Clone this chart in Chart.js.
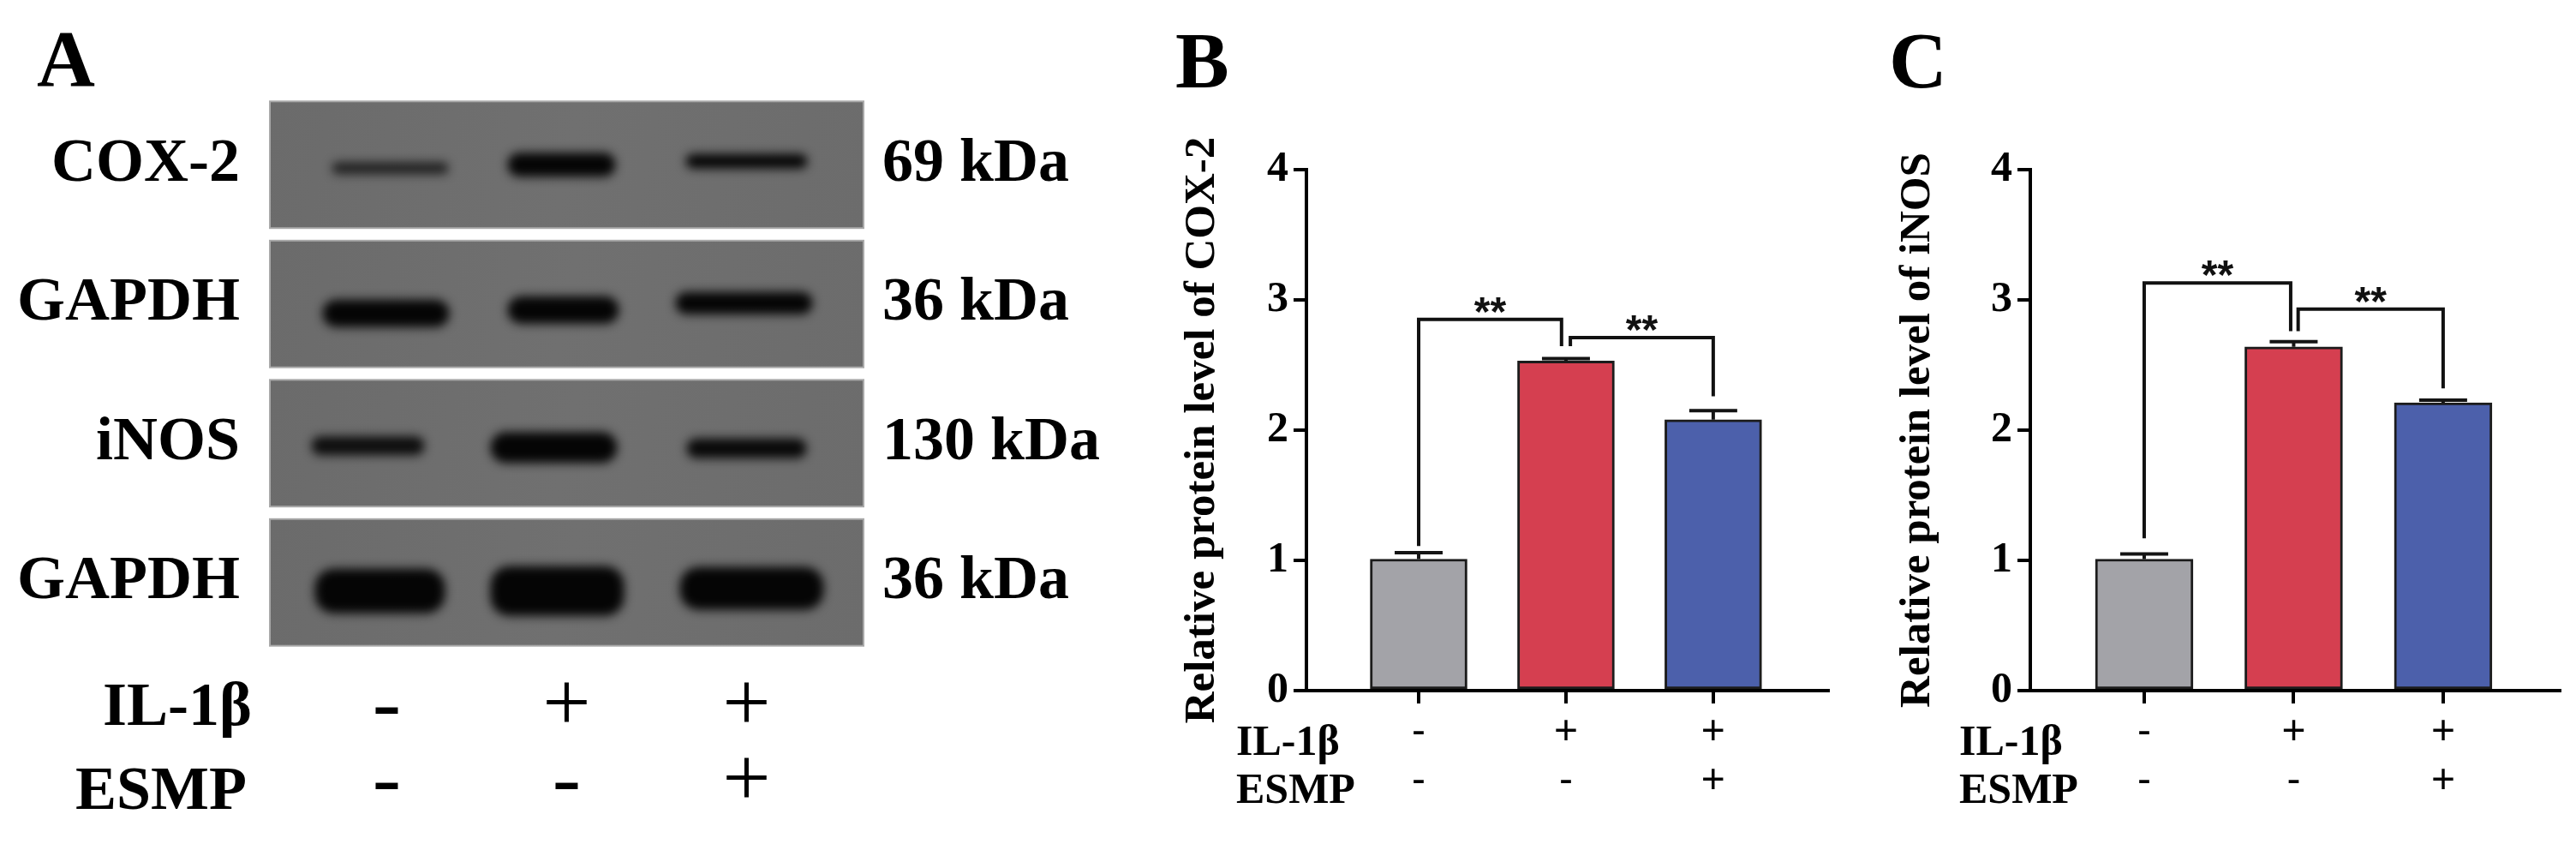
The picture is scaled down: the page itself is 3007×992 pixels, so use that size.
<!DOCTYPE html>
<html>
<head>
<meta charset="utf-8">
<script src="https://cdn.jsdelivr.net/npm/chart.js@4.4.1/dist/chart.umd.min.js"></script>
<style>
  html, body { margin: 0; padding: 0; background: #ffffff; }
  #wrap { position: relative; width: 3007px; height: 992px; overflow: hidden; background: #ffffff; }
  canvas { position: absolute; top: 0; }
</style>
</head>
<body>
<div id="wrap">
  <canvas id="cA" width="1300" height="992" style="left:0px;width:1300px;height:992px"></canvas>
  <canvas id="cB" width="850" height="992" style="left:1300px;width:850px;height:992px"></canvas>
  <canvas id="cC" width="857" height="992" style="left:2150px;width:857px;height:992px"></canvas>
</div>
<script>
// ---------------- DATA ----------------
const lanes = [1, 2, 3];
const treatmentRows = ['IL-1β', 'ESMP'];
const IL1b = ['-', '+', '+'];
const ESMP = ['-', '-', '+'];

// Western blot (panel A)
const blotProteins = ['COX-2', 'GAPDH', 'iNOS', 'GAPDH'];
const blotSizes = ['69 kDa', '36 kDa', '130 kDa', '36 kDa'];
// relative band darkness per lane (read from the blot)
const bandCOX2 = [0.74, 1.0, 1.0];
const bandGAPDH1 = [1.0, 1.0, 1.0];
const bandINOS = [0.92, 1.0, 0.97];
const bandGAPDH2 = [1.0, 1.0, 1.0];

// Panel B: relative protein level of COX-2
const cox2Mean = [1.01, 2.53, 2.08];
const cox2Err = [0.05, 0.02, 0.07];
// Panel C: relative protein level of iNOS
const inosMean = [1.01, 2.64, 2.21];
const inosErr = [0.04, 0.04, 0.02];

const yTicks = [0, 1, 2, 3, 4];
const sigLabel = '**';
// significance brackets (x in lane units, y in axis units)
const cox2Brackets = [
  { x1: 1, x2: 1.97, yStart: 1.11, yTop: 2.85, yEnd: 2.645 },
  { x1: 2.03, x2: 3, yStart: 2.645, yTop: 2.71, yEnd: 2.26 }
];
const inosBrackets = [
  { x1: 1, x2: 1.98, yStart: 1.17, yTop: 3.13, yEnd: 2.76 },
  { x1: 2.03, x2: 3, yStart: 2.76, yTop: 2.93, yEnd: 2.32 }
];

// ---------------- STYLE ----------------
const SERIF = '"Liberation Serif", "Times New Roman", serif';
const SANS = '"Liberation Sans", Arial, sans-serif';
const barColors = ['#a3a3a8', '#d53f50', '#4c60ab'];
const blotBands = [bandCOX2, bandGAPDH1, bandINOS, bandGAPDH2];
// band shape per row/lane: pixel offsets and sizes
const bandShapes = [
  [ {dx: 4, dy: 4, w: 136, h: 14}, {dx: -6, dy: 0, w: 126, h: 28}, {dx: 0, dy: -4, w: 142, h: 17} ],
  [ {dx: -1, dy: 11, w: 148, h: 32}, {dx: -4, dy: 7, w: 130, h: 32}, {dx: -3, dy: -1, w: 160, h: 26} ],
  [ {dx: -22, dy: 3, w: 132, h: 22}, {dx: -15, dy: 5, w: 148, h: 36}, {dx: 0, dy: 6, w: 140, h: 23} ],
  [ {dx: -8, dy: 10, w: 152, h: 52}, {dx: -11, dy: 10, w: 156, h: 58}, {dx: 6, dy: 7, w: 168, h: 50} ]
];

function letterPlugin(letter, x, y) {
  return {
    id: 'letter' + letter,
    afterDraw(chart) {
      const c = chart.ctx;
      c.save();
      c.font = 'bold 94px ' + SERIF;
      c.fillStyle = '#000';
      c.textAlign = 'left';
      c.textBaseline = 'alphabetic';
      c.fillText(letter, x, y);
      c.restore();
    }
  };
}

// ---------------- PANEL A ----------------
const blotPlugin = {
  id: 'blot',
  beforeDatasetsDraw(chart) {
    const c = chart.ctx;
    const xs = chart.scales.x, ys = chart.scales.y;
    const rowH = (ys.bottom - ys.top) / blotProteins.length;
    const half = rowH * 0.455;
    blotProteins.forEach((p, r) => {
      const cy = ys.getPixelForValue(r);
      const top = cy - half, bottom = cy + half;
      const left = xs.left, right = xs.right;
      c.save();
      const g = c.createLinearGradient(left, top, right, bottom);
      g.addColorStop(0, '#6b6b6b');
      g.addColorStop(0.5, '#707070');
      g.addColorStop(1, '#6c6c6c');
      c.fillStyle = g;
      c.fillRect(left, top, right - left, bottom - top);
      c.beginPath();
      c.rect(left, top, right - left, bottom - top);
      c.clip();
      blotBands[r].forEach((val, j) => {
        const s = bandShapes[r][j];
        const bx = xs.getPixelForValue(lanes[j]) + s.dx;
        const by = cy + s.dy;
        c.save();
        c.filter = 'blur(6px)';
        c.fillStyle = 'rgba(5,5,5,' + val + ')';
        c.beginPath();
        c.roundRect(bx - s.w / 2, by - s.h / 2, s.w, s.h, Math.min(s.h / 2, 22));
        c.fill();
        c.restore();
      });
      c.restore();
      c.save();
      c.strokeStyle = '#a9a9a9';
      c.lineWidth = 2;
      c.strokeRect(left, top, right - left, bottom - top);
      c.restore();
    });
  },
  afterDraw(chart) {
    const c = chart.ctx;
    const xs = chart.scales.x;
    c.save();
    c.font = 'bold 72px ' + SERIF;
    c.fillStyle = '#000';
    c.textAlign = 'right';
    c.textBaseline = 'middle';
    c.fillText(treatmentRows[0], 294, xs.top + 66);
    c.fillText(treatmentRows[1], 288, xs.top + 164);
    c.restore();
  }
};

new Chart(document.getElementById('cA'), {
  type: 'bar',
  data: { datasets: [] },
  options: {
    responsive: false, animation: false, devicePixelRatio: 1,
    layout: { padding: { top: 111, left: 0, right: 0, bottom: 0 } },
    plugins: { legend: { display: false }, tooltip: { enabled: false } },
    scales: {
      x: {
        type: 'linear', min: 0.35, max: 3.65, offset: false,
        afterBuildTicks: s => { s.ticks = lanes.map(v => ({ value: v })); },
        afterFit: s => { s.height = 231; },
        grid: { display: false, drawTicks: false, offset: false },
        border: { display: false },
        ticks: {
          autoSkip: false, maxRotation: 0, padding: 22, color: '#000',
          font: { family: SERIF, weight: 'normal', size: 100, lineHeight: 0.88 },
          callback: v => { const i = lanes.indexOf(Math.round(v)); return [IL1b[i], ESMP[i]]; }
        }
      },
      y: {
        type: 'category', labels: blotProteins, offset: true, min: 0, max: 3, position: 'left',
        afterFit: s => { s.width = 315; },
        grid: { display: false, drawTicks: false }, border: { display: false },
        ticks: { padding: 35, color: '#000', font: { family: SERIF, weight: 'bold', size: 72 } }
      },
      y2: {
        type: 'category', labels: blotSizes, offset: true, min: 0, max: 3, position: 'right',
        afterFit: s => { s.width = 292; },
        grid: { display: false, drawTicks: false }, border: { display: false },
        ticks: { padding: 22, color: '#000', font: { family: SERIF, weight: 'bold', size: 72 } }
      }
    }
  },
  plugins: [blotPlugin, letterPlugin('A', 43, 100)]
});

// ---------------- PANELS B & C ----------------
function errorBarPlugin(errs) {
  return {
    id: 'errorBars',
    afterDatasetsDraw(chart) {
      const c = chart.ctx;
      const ys = chart.scales.y;
      const meta = chart.getDatasetMeta(0);
      const vals = chart.data.datasets[0].data;
      c.save();
      c.strokeStyle = '#141414';
      c.lineWidth = 4;
      meta.data.forEach((el, i) => {
        const yv = ys.getPixelForValue(vals[i].y);
        const ye = ys.getPixelForValue(vals[i].y + errs[i]);
        c.beginPath();
        c.moveTo(el.x, yv);
        c.lineTo(el.x, ye);
        c.moveTo(el.x - 28, ye);
        c.lineTo(el.x + 28, ye);
        c.stroke();
      });
      c.restore();
    }
  };
}

function bracketPlugin(brackets) {
  return {
    id: 'brackets',
    afterDatasetsDraw(chart) {
      const c = chart.ctx;
      const xs = chart.scales.x, ys = chart.scales.y;
      c.save();
      c.strokeStyle = '#111';
      c.lineWidth = 4;
      c.lineJoin = 'miter';
      brackets.forEach(b => {
        const x1 = xs.getPixelForValue(b.x1), x2 = xs.getPixelForValue(b.x2);
        const ya = ys.getPixelForValue(b.yStart), yt = ys.getPixelForValue(b.yTop), yb = ys.getPixelForValue(b.yEnd);
        c.beginPath();
        c.moveTo(x1, ya);
        c.lineTo(x1, yt);
        c.lineTo(x2, yt);
        c.lineTo(x2, yb);
        c.stroke();
        c.font = 'bold 48px ' + SANS;
        c.fillStyle = '#111';
        c.textAlign = 'center';
        c.textBaseline = 'middle';
        c.fillText(sigLabel, (x1 + x2) / 2, yt - 6);
      });
      c.restore();
    }
  };
}

function rowLabelPlugin(xLeft) {
  return {
    id: 'rowLabels',
    afterDraw(chart) {
      const c = chart.ctx;
      const xs = chart.scales.x;
      c.save();
      c.font = 'bold 50px ' + SERIF;
      c.fillStyle = '#000';
      c.textAlign = 'left';
      c.textBaseline = 'middle';
      c.fillText(treatmentRows[0], xLeft, xs.top + 62);
      c.fillText(treatmentRows[1], xLeft, xs.top + 118);
      c.restore();
    }
  };
}

function barPanel(id, means, errs, brackets, title, geo) {
  return new Chart(document.getElementById(id), {
    type: 'bar',
    data: {
      datasets: [{
        data: means.map((v, i) => ({ x: lanes[i], y: v })),
        backgroundColor: barColors,
        borderColor: '#1c1c1c',
        borderWidth: 3,
        borderSkipped: false,
        barThickness: geo.barW
      }]
    },
    options: {
      responsive: false, animation: false, devicePixelRatio: 1,
      layout: { padding: { top: 198, left: 0, right: geo.padRight, bottom: 0 } },
      plugins: { legend: { display: false }, tooltip: { enabled: false } },
      scales: {
        x: {
          type: 'linear', min: 0.238, max: 3.78, offset: false,
          afterBuildTicks: s => { s.ticks = lanes.map(v => ({ value: v })); },
          afterFit: s => { s.height = 186; },
          grid: { drawOnChartArea: false, offset: false, tickLength: 15, lineWidth: 4, color: '#000' },
          border: { width: 4, color: '#000' },
          ticks: {
            autoSkip: false, maxRotation: 0, padding: 5, color: '#000',
            font: { family: SANS, size: 48, lineHeight: 1.19 },
            callback: v => { const i = lanes.indexOf(Math.round(v)); return [IL1b[i], ESMP[i]]; }
          }
        },
        y: {
          min: 0, max: 4,
          afterBuildTicks: s => { s.ticks = yTicks.map(v => ({ value: v })); },
          afterFit: s => { s.width = geo.yW; },
          grid: { drawOnChartArea: false, tickLength: 15, lineWidth: 4, color: '#000' },
          border: { width: 4, color: '#000' },
          ticks: { padding: 6, color: '#000', font: { family: SERIF, weight: 'bold', size: 50 } },
          title: {
            display: true, text: title, color: '#000',
            font: { family: SERIF, weight: 'bold', size: 51, lineHeight: 1.2 },
            padding: { top: geo.titlePad, bottom: 0 }
          }
        }
      }
    },
    plugins: [errorBarPlugin(errs), bracketPlugin(brackets), rowLabelPlugin(geo.rowX), letterPlugin(geo.letter, geo.letterX, 102)]
  });
}

barPanel('cB', cox2Mean, cox2Err, cox2Brackets, 'Relative protein level of COX-2',
  { barW: 113, padRight: 16, yW: 225, titlePad: 73.4, rowX: 143, letter: 'B', letterX: 72 });
barPanel('cC', inosMean, inosErr, inosBrackets, 'Relative protein level of iNOS',
  { barW: 114, padRight: 19, yW: 220, titlePad: 58.4, rowX: 137, letter: 'C', letterX: 55 });
</script>
</body>
</html>
